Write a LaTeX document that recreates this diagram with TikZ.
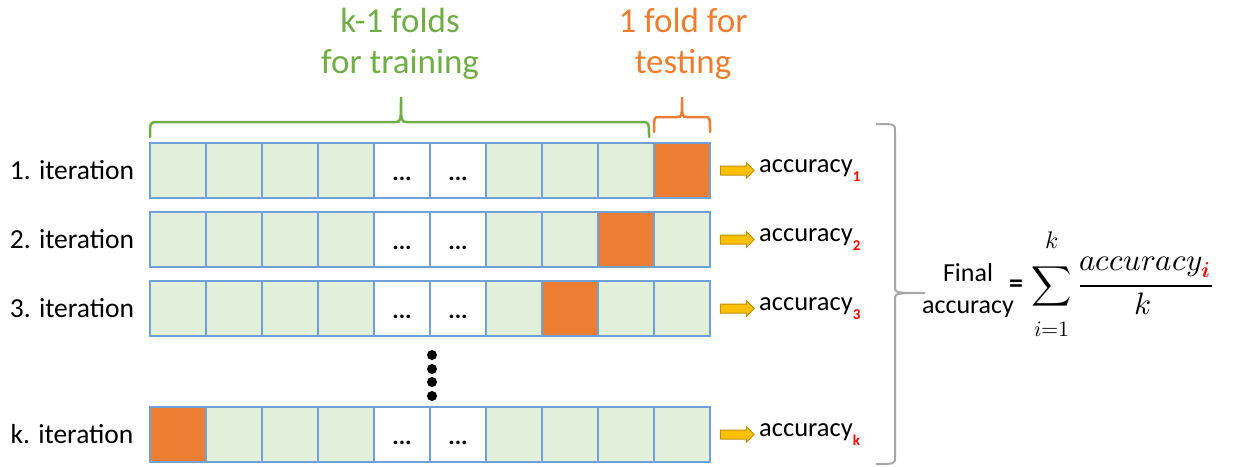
\documentclass[tikz,border=0pt]{standalone}
\usepackage{fontspec}
\usepackage{amsmath}
\usepackage{unicode-math}
\setmainfont{Carlito}
\setmathfont{Latin Modern Math}
\usetikzlibrary{shapes.arrows}
\definecolor{cellgreen}{HTML}{E2EFDA}
\definecolor{cellborder}{HTML}{6FA0D6}
\definecolor{foldorange}{HTML}{ED7D31}
\definecolor{textgreen}{HTML}{70AD47}
\definecolor{arrowgold}{HTML}{FFC000}
\definecolor{arrowedge}{HTML}{BF9000}
\definecolor{bracegray}{HTML}{A6A6A6}
\tikzset{
  cellbase/.style={draw=cellborder, line width=2pt, minimum width=56pt, minimum height=55pt, inner sep=0pt, outer sep=0pt},
  traincell/.style={cellbase, fill=cellgreen},
  testcell/.style={cellbase, fill=foldorange},
  dotcell/.style={cellbase, fill=white},
  rowlabel/.style={font=\fontsize{27.5}{32}\selectfont, anchor=center},
  acclabel/.style={font=\fontsize{26.5}{30}\selectfont, anchor=west, inner sep=0pt},
  goldarrow/.style={single arrow, fill=arrowgold, draw=arrowedge, line width=1pt, minimum height=34pt, minimum width=15pt, inner sep=4pt, single arrow head extend=3.5pt},
  bracestroke/.style={line width=2.5pt, line cap=round},
  titletext/.style={font=\fontsize{35}{41}\selectfont, align=center},
  vdot/.style={circle, fill=black, inner sep=0pt, minimum size=10pt},
  mathpart/.style={inner sep=0pt},
}
\newcommand{\accsub}[1]{\raisebox{-0.32em}{\fontsize{15}{15}\selectfont\bfseries\color{red}#1}}
\begin{document}
\begin{tikzpicture}[x=1pt,y=-1pt]
\useasboundingbox (0,0) rectangle (1248,466);
% rows of folds
\foreach \r/\y/\o/\lab in {1/170.5/10/1, 2/239.5/9/2, 3/308.5/8/3, k/434.5/1/k} {
  \foreach \c in {1,...,10} {
    \ifnum\c=\o \def\sty{testcell}\else
      \ifnum\c=5 \def\sty{dotcell}\else
        \ifnum\c=6 \def\sty{dotcell}\else \def\sty{traincell}\fi\fi\fi
    \node[\sty] (r\r c\c) at ({150+56*(\c-0.5)},\y) {};
  }
  \node[font=\fontsize{24}{24}\selectfont\bfseries] (d\r a) at ([yshift=-8pt]r\r c5.center) {...};
  \node[font=\fontsize{24}{24}\selectfont\bfseries] (d\r b) at ([yshift=-8pt]r\r c6.center) {...};
  \node[rowlabel] (lab\r) at (72,\y) {\lab. iteration};
  \node[goldarrow] (arr\r) at (735,\y) {};
  \node[acclabel] (acc\r) at (759,\y) {accuracy\accsub{\lab}};
}
% vertical dots
\node[vdot] (v1) at (432,355) {};
\node[vdot] (v2) at (432,369) {};
\node[vdot] (v3) at (432,382) {};
\node[vdot] (v4) at (432,396) {};
% titles
\node[titletext, text=textgreen] (train) at (400,44) {k-1 folds\\for training};
\node[titletext, text=foldorange] (test) at (683,44) {1 fold for\\testing};
% braces
\draw[bracestroke, draw=textgreen] (150,137) .. controls (150,122) .. (158,122) -- (395,122) .. controls (401,122) .. (401,97) .. controls (401,122) .. (407,122) -- (641,122) .. controls (649,122) .. (649,137);
\draw[bracestroke, draw=foldorange] (654,132) .. controls (654,117) .. (660,117) -- (677,117) .. controls (682,117) .. (682,97) .. controls (682,117) .. (687,117) -- (704,117) .. controls (710,117) .. (710,132);
\draw[line width=2pt, draw=bracegray] (876,124) .. controls (895,124) .. (895,131) -- (895,286) .. controls (895,293) .. (925,293) .. controls (895,293) .. (895,300) -- (895,457) .. controls (895,464) .. (876,464);
% final accuracy
\node[font=\fontsize{26}{32}\selectfont, align=center] (final) at (968,291) {Final\\accuracy};
\node[font=\fontsize{28}{28}\selectfont\bfseries] (eq) at (1016,286) {=};
\node[mathpart, font=\fontsize{28}{28}\selectfont] (sum) at (1052,286) {$\displaystyle\sum$};
\node[mathpart, font=\fontsize{24}{24}\selectfont] (up) at (1052,240) {$k$};
\node[mathpart, font=\fontsize{22}{22}\selectfont] (low) at (1052,329) {$i{=}1$};
\node[mathpart, font=\fontsize{31}{31}\selectfont, anchor=base] (num) at (1145,270) {$accuracy_{\color{red}\symbfit{i}}$};
\node[mathpart, font=\fontsize{31}{31}\selectfont, anchor=base] (den) at (1143,314) {$k$};
\coordinate (barL) at (1080,286);
\coordinate (barR) at (1212,286);
\draw[line width=1.6pt] (barL) -- (barR);
\end{tikzpicture}
\end{document}
